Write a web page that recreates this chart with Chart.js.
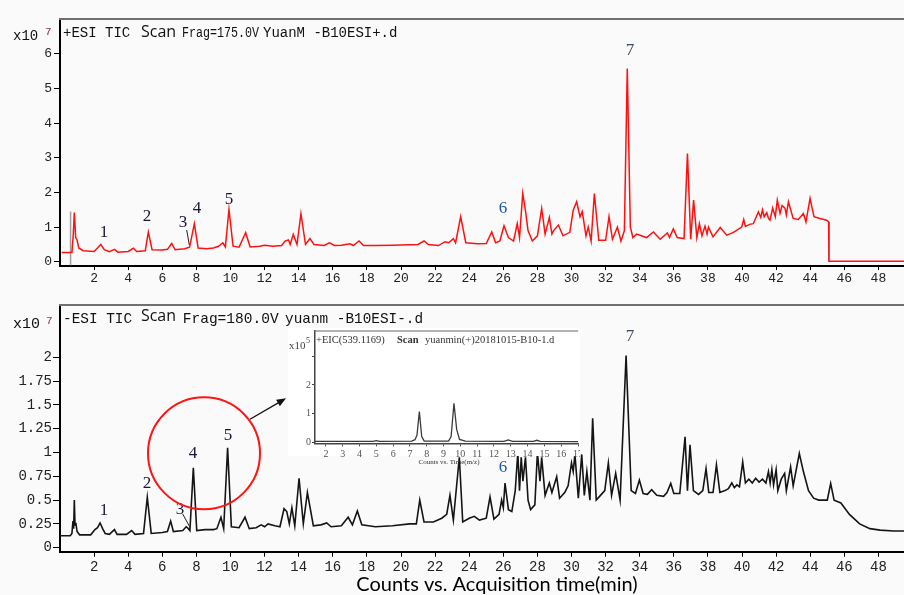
<!DOCTYPE html>
<html>
<head>
<meta charset="utf-8">
<title>ESI TIC chromatograms</title>
<script src="https://cdn.jsdelivr.net/npm/chart.js@4.4.0/dist/chart.umd.min.js"></script>
<style>
  body { margin: 0; background: #fafafa; width: 904px; height: 595px; overflow: hidden; position: relative; }
  canvas { position: absolute; }
  #topChart { left: 0; top: 0; }
  #bottomChart { left: 0; top: 295px; }
  #insetChart { left: 282px; top: 328px; }
</style>
</head>
<body>
<canvas id="topChart" width="904" height="295" style="width:904px;height:295px"></canvas>
<canvas id="bottomChart" width="904" height="300" style="width:904px;height:300px"></canvas>
<canvas id="insetChart" width="298" height="142" style="width:298px;height:142px"></canvas>
<script>
// ---- data ----
// +ESI TIC, counts x10^7
const posTime = [0.1, 0.7, 0.78, 0.84, 0.92, 1.0, 1.1, 1.35, 2.0, 2.2, 2.39, 2.6, 2.9, 3.2, 3.4, 4.0, 4.3, 4.5, 5.0, 5.18,
  5.4, 6.0, 6.3, 6.55, 6.75, 7.3, 7.6, 7.88, 8.1, 8.6, 9.0, 9.3, 9.55, 9.7, 9.91, 10.15, 10.5, 10.89, 11.15, 11.7,
  12.0, 12.5, 13.0, 13.2, 13.4, 13.5, 13.68, 13.9, 14.13, 14.4, 14.66, 14.9, 15.5, 15.8, 16.1, 16.5, 17.0, 17.2, 17.54, 17.8,
  18.5, 19.5, 20.5, 21.0, 21.35, 21.6, 22.2, 22.58, 22.8, 23.07, 23.2, 23.5, 23.8, 24.5, 25.0, 25.32, 25.55, 25.8, 26.04, 26.3,
  26.6, 26.82, 26.95, 27.14, 27.31, 27.45, 27.7, 28.0, 28.25, 28.45, 28.7, 28.85, 28.95, 29.23, 29.5, 29.9, 30.1, 30.3, 30.5, 30.63,
  30.85, 30.98, 31.15, 31.34, 31.6, 32.0, 32.2, 32.4, 32.69, 32.9, 33.1, 33.27, 33.45, 33.6, 33.82, 34.1, 34.4, 34.8, 35.2, 35.62,
  35.75, 35.97, 36.2, 36.6, 36.8, 36.99, 37.16, 37.35, 37.5, 37.65, 37.83, 37.95, 38.03, 38.3, 38.72, 39.1, 39.5, 39.98, 40.1, 40.2,
  40.45, 40.66, 40.96, 41.1, 41.2, 41.3, 41.45, 41.55, 41.64, 41.8, 41.95, 42.07, 42.23, 42.35, 42.52, 42.6, 42.72, 43.0, 43.3, 43.6,
  43.75, 43.99, 44.22, 44.57, 44.96, 45.08, 45.1, 49.5];
const posCounts = [0.27, 0.27, 0.8, 1.42, 0.7, 0.63, 0.4, 0.32, 0.3, 0.4, 0.5, 0.35, 0.29, 0.36, 0.28, 0.3, 0.39, 0.3, 0.32, 0.86,
  0.35, 0.34, 0.36, 0.53, 0.35, 0.38, 0.42, 1.1, 0.4, 0.38, 0.4, 0.45, 0.55, 0.43, 1.51, 0.45, 0.42, 0.84, 0.43, 0.45,
  0.48, 0.45, 0.47, 0.6, 0.63, 0.5, 0.79, 0.5, 1.39, 0.5, 0.67, 0.5, 0.47, 0.55, 0.47, 0.48, 0.52, 0.47, 0.6, 0.47,
  0.47, 0.48, 0.49, 0.5, 0.6, 0.5, 0.47, 0.58, 0.55, 0.67, 0.55, 1.3, 0.55, 0.52, 0.53, 0.86, 0.55, 0.6, 1.04, 0.7,
  0.6, 1.1, 0.7, 1.97, 1.44, 0.9, 0.6, 0.75, 1.54, 0.8, 1.28, 0.8, 0.9, 1.06, 0.75, 0.85, 1.49, 1.73, 1.3, 1.45,
  0.75, 1.0, 0.6, 1.97, 0.62, 0.62, 1.3, 0.65, 1.0, 0.6, 0.9, 5.57, 1.0, 0.7, 0.8, 0.75, 0.7, 0.86, 0.65, 0.83,
  0.7, 0.95, 0.7, 0.67, 3.12, 0.65, 1.78, 0.7, 1.1, 0.75, 1.03, 0.8, 1.0, 0.72, 0.99, 0.77, 0.85, 1.0, 1.22, 1.02,
  1.08, 1.1, 1.44, 1.28, 1.5, 1.3, 1.42, 1.25, 1.2, 1.55, 1.3, 1.78, 1.4, 1.62, 1.55, 1.35, 1.73, 1.25, 1.22, 1.39,
  1.15, 1.83, 1.3, 1.25, 1.2, 1.15, 0.02, 0.02];
// grey start / stop markers of the +ESI trace
const posStartTime = [0.62, 0.62];
const posStartCounts = [-0.1, 1.45];
const posStopTime = [45.09, 45.09];
const posStopCounts = [1.15, 0.02];

// -ESI TIC, counts x10^7
const negTime = [0.0, 0.6, 0.7, 0.76, 0.8, 0.84, 0.88, 0.93, 1.0, 1.15, 1.8, 2.05, 2.2, 2.35, 2.5, 2.65, 2.9, 3.19, 3.35, 3.9,
  4.2, 4.4, 4.9, 5.12, 5.35, 6.0, 6.3, 6.49, 6.65, 7.2, 7.4, 7.53, 7.62, 7.82, 8.02, 8.5, 9.0, 9.2, 9.44, 9.6,
  9.83, 10.05, 10.5, 10.85, 11.1, 11.5, 11.8, 12.0, 12.2, 12.6, 12.9, 13.14, 13.3, 13.45, 13.6, 13.77, 14.02, 14.27, 14.51, 14.86,
  15.3, 15.64, 15.9, 16.5, 16.9, 17.15, 17.44, 17.7, 18.5, 19.5, 20.5, 20.9, 21.1, 21.35, 21.9, 22.39, 22.68, 22.87, 23.07, 23.42,
  23.62, 24.0, 24.3, 24.6, 25.0, 25.22, 25.45, 25.75, 25.9, 26.0, 26.1, 26.3, 26.5, 26.7, 26.85, 26.95, 27.05, 27.15, 27.3, 27.45,
  27.6, 27.85, 28.0, 28.15, 28.25, 28.45, 28.7, 28.85, 29.13, 29.3, 29.6, 29.8, 30.0, 30.1, 30.2, 30.4, 30.6, 30.75, 30.9, 31.08,
  31.24, 31.45, 31.7, 31.95, 32.16, 32.35, 32.59, 32.85, 33.2, 33.5, 33.75, 33.98, 34.2, 34.45, 34.7, 35.0, 35.4, 35.6, 35.82, 36.0,
  36.35, 36.66, 36.8, 36.95, 37.15, 37.45, 37.7, 37.89, 38.05, 38.3, 38.5, 38.7, 39.0, 39.2, 39.4, 39.55, 39.7, 39.85, 40.04, 40.2,
  40.4, 40.6, 40.8, 41.0, 41.2, 41.4, 41.55, 41.65, 41.75, 41.85, 42.0, 42.1, 42.3, 42.5, 42.6, 42.85, 43.0, 43.36, 43.6, 43.9,
  44.2, 44.5, 45.0, 45.2, 45.4, 45.8, 46.3, 46.9, 47.5, 48.1, 48.9, 49.5];
const negCounts = [0.126, 0.126, 0.15, 0.28, 0.2, 0.5, 0.24, 0.26, 0.17, 0.135, 0.135, 0.19, 0.21, 0.26, 0.2, 0.15, 0.14, 0.19, 0.14, 0.14,
  0.18, 0.14, 0.15, 0.53, 0.15, 0.16, 0.17, 0.28, 0.17, 0.18, 0.22, 0.2, 0.18, 0.84, 0.18, 0.19, 0.19, 0.2, 0.32, 0.2,
  1.05, 0.22, 0.21, 0.32, 0.2, 0.21, 0.24, 0.22, 0.25, 0.23, 0.22, 0.41, 0.38, 0.25, 0.42, 0.23, 0.73, 0.25, 0.58, 0.23,
  0.24, 0.26, 0.22, 0.23, 0.32, 0.24, 0.385, 0.24, 0.22, 0.23, 0.25, 0.25, 0.5, 0.27, 0.27, 0.31, 0.35, 0.55, 0.29, 0.95,
  0.27, 0.31, 0.33, 0.29, 0.31, 0.535, 0.3, 0.35, 0.5, 0.42, 0.68, 0.4, 0.38, 0.6, 1.0, 0.6, 0.95, 0.7, 0.95, 0.5,
  0.4, 0.45, 1.0, 0.7, 0.95, 0.55, 0.68, 0.58, 0.745, 0.52, 0.58, 0.65, 0.89, 0.8, 0.98, 0.52, 0.98, 0.55, 0.8, 0.5,
  1.36, 0.5, 0.55, 0.6, 0.89, 0.55, 0.78, 0.5, 2.02, 0.6, 0.57, 0.71, 0.57, 0.56, 0.61, 0.55, 0.54, 0.58, 0.675, 0.57,
  0.57, 1.165, 0.6, 1.08, 0.6, 0.56, 0.6, 0.83, 0.58, 0.58, 0.87, 0.58, 0.6, 0.62, 0.68, 0.63, 0.66, 0.64, 0.9, 0.68,
  0.72, 0.68, 0.73, 0.69, 0.72, 0.68, 0.8, 0.68, 0.82, 0.66, 0.82, 0.6, 0.72, 0.78, 0.6, 0.85, 0.65, 0.99, 0.8, 0.6,
  0.52, 0.5, 0.5, 0.675, 0.5, 0.47, 0.35, 0.25, 0.2, 0.185, 0.175, 0.175];

// +EIC(539.1169) inset, counts x10^5
const eicTime = [1.35, 4.8, 5.0, 5.2, 7.1, 7.3, 7.42, 7.56, 7.7, 7.85, 9.3, 9.45, 9.62, 9.78, 9.95, 10.3, 12.6, 12.85, 13.1, 14.35, 14.55, 14.75, 17.0];
const eicCounts = [0.03, 0.03, 0.06, 0.03, 0.04, 0.09, 0.25, 1.07, 0.2, 0.04, 0.04, 0.2, 1.36, 0.45, 0.1, 0.04, 0.03, 0.08, 0.03, 0.03, 0.07, 0.03, 0.02];

// ticks
const timeTicks = [2, 4, 6, 8, 10, 12, 14, 16, 18, 20, 22, 24, 26, 28, 30, 32, 34, 36, 38, 40, 42, 44, 46, 48];
const posYTicks = [0, 1, 2, 3, 4, 5, 6];
const negYTicks = [0, 0.25, 0.5, 0.75, 1, 1.25, 1.5, 1.75, 2];
const eicXTicks = [2, 3, 4, 5, 6, 7, 8, 9, 10, 11, 12, 13, 14, 15, 16, 17];
const eicYTicks = [0, 1, 2, 3];
const eicYLabels = ['0', '1', '2', ''];

const peakNames = ['1', '2', '3', '4', '5', '6', '7'];

// ---- helpers ----
const MONO = '"Liberation Mono", monospace';
const SERIF = '"Liberation Serif", serif';

function points(xs, ys) {
    return xs.map((x, i) => ({ x: x, y: ys[i] }));
}

function fixBox(dim, size) {
    return s => {
        s[dim] = size;
        s.paddingLeft = s.paddingRight = s.paddingTop = s.paddingBottom = 0;
    };
}

function axis(opt) {
    return {
        type: 'linear',
        min: opt.min,
        max: opt.max,
        afterBuildTicks: s => { s.ticks = opt.ticks.map(v => ({ value: v })); },
        afterFit: fixBox(opt.dim, opt.size),
        grid: { display: true, drawOnChartArea: false, drawTicks: true, tickLength: opt.tickLength, color: opt.color, lineWidth: 1 },
        border: { display: true, color: opt.color, width: opt.borderWidth },
        ticks: {
            autoSkip: false, maxRotation: 0, padding: opt.padding,
            color: opt.labelColor, font: { family: opt.family, size: opt.fontSize },
            callback: opt.labels ? (v, i) => opt.labels[i] : v => String(v)
        }
    };
}

// draws frame line, free texts, circle and arrow for each panel
const decor = {
    id: 'decor',
    beforeDraw(chart, args, o) {
        if (!o.whiteBox) return;
        const ctx = chart.ctx, b = o.whiteBox;
        ctx.save();
        ctx.fillStyle = '#ffffff';
        ctx.fillRect(b[0], b[1], b[2], b[3]);
        ctx.restore();
    },
    afterDraw(chart, args, o) {
        const ctx = chart.ctx, a = chart.chartArea;
        ctx.save();
        ctx.strokeStyle = o.frameColor;
        ctx.lineWidth = o.frameWidth;
        ctx.beginPath();
        ctx.moveTo(a.left - 1, a.top);
        ctx.lineTo(a.right, a.top);
        ctx.stroke();

        ctx.textBaseline = 'middle';
        (o.texts || []).forEach(t => {
            ctx.font = t.f;
            ctx.fillStyle = t.c || '#111';
            ctx.textAlign = t.a || 'left';
            if (t.w) ctx.fillText(t.t, t.x, t.y, t.w);
            else ctx.fillText(t.t, t.x, t.y);
        });

        ctx.strokeStyle = '#222';
        ctx.lineWidth = 1;
        (o.lines || []).forEach(l => {
            ctx.beginPath();
            ctx.moveTo(l[0], l[1]);
            ctx.lineTo(l[2], l[3]);
            ctx.stroke();
        });

        if (o.circle) {
            ctx.strokeStyle = '#ff1414';
            ctx.lineWidth = 2;
            ctx.beginPath();
            ctx.arc(o.circle[0], o.circle[1], o.circle[2], 0, Math.PI * 2);
            ctx.stroke();
        }
        if (o.arrow) {
            const [x1, y1, x2, y2] = o.arrow;
            const ang = Math.atan2(y2 - y1, x2 - x1);
            ctx.strokeStyle = '#111';
            ctx.fillStyle = '#111';
            ctx.lineWidth = 1.3;
            ctx.beginPath();
            ctx.moveTo(x1, y1);
            ctx.lineTo(x2 - 6 * Math.cos(ang), y2 - 6 * Math.sin(ang));
            ctx.stroke();
            ctx.beginPath();
            ctx.moveTo(x2, y2);
            ctx.lineTo(x2 - 10 * Math.cos(ang - 0.38), y2 - 10 * Math.sin(ang - 0.38));
            ctx.lineTo(x2 - 10 * Math.cos(ang + 0.38), y2 - 10 * Math.sin(ang + 0.38));
            ctx.closePath();
            ctx.fill();
        }
        ctx.restore();
    }
};

function peakLabels(xy, colors) {
    return peakNames.map((n, i) => ({ t: n, x: xy[i][0], y: xy[i][1], a: 'center', f: '17px ' + SERIF, c: colors[i] }));
}
const labelColors = ['#16163a', '#16163a', '#16163a', '#16163a', '#16163a', '#1c5aa6', '#3d4a5c'];

const baseOptions = {
    responsive: false,
    animation: false,
    events: [],
    plugins: { legend: { display: false }, tooltip: { enabled: false } }
};

// ---- +ESI panel ----
new Chart(document.getElementById('topChart'), {
    type: 'scatter',
    data: {
        datasets: [
            { data: points(posTime, posCounts), showLine: true, borderColor: '#ff1010', borderWidth: 1.5, pointRadius: 0, tension: 0 },
            { data: points(posStartTime, posStartCounts), showLine: true, borderColor: '#a0a0a0', borderWidth: 1.5, pointRadius: 0 },
            { data: points(posStopTime, posStopCounts), showLine: true, borderColor: '#9a9a9a', borderWidth: 1.5, pointRadius: 0 }
        ]
    },
    options: Object.assign({}, baseOptions, {
        layout: { padding: { top: 19, right: 0, left: 0, bottom: 0 } },
        scales: {
            x: axis({ min: 0, max: 49.5, ticks: timeTicks, dim: 'height', size: 29, tickLength: 4, color: '#000', borderWidth: 2,
                      padding: 1, labelColor: '#222', family: MONO, fontSize: 13 }),
            y: axis({ min: -0.12, max: 7.0, ticks: posYTicks, dim: 'width', size: 60, tickLength: 6, color: '#000', borderWidth: 2,
                      padding: 2, labelColor: '#222', family: MONO, fontSize: 13 })
        },
        plugins: Object.assign({}, baseOptions.plugins, {
            decor: {
                frameColor: '#707070', frameWidth: 2,
                texts: [
                    { t: 'x10', x: 13, y: 36, f: '14px ' + MONO },
                    { t: '7', x: 45, y: 32, f: '11px ' + MONO, c: '#8a3a4a' },
                    { t: '+ESI TIC', x: 63, y: 33, f: '14px ' + MONO, w: 69 },
                    { t: 'Scan', x: 141, y: 32, f: '16px "Open Sans"', w: 36 },
                    { t: 'Frag=175.0V', x: 182, y: 33, f: '14px ' + MONO, w: 77 },
                    { t: 'YuanM -B10ESI+.d', x: 263, y: 33, f: '14px ' + MONO, w: 158 }
                ].concat(peakLabels([[104, 233], [147, 217], [183, 223], [197, 209], [229, 200], [503, 209], [630, 51]], labelColors)),
                lines: [[186.7, 230, 189.3, 245]]
            }
        })
    }),
    plugins: [decor]
});

// ---- -ESI panel ----
new Chart(document.getElementById('bottomChart'), {
    type: 'scatter',
    data: {
        datasets: [
            { data: points(negTime, negCounts), showLine: true, borderColor: '#141414', borderWidth: 1.6, pointRadius: 0, tension: 0 }
        ]
    },
    options: Object.assign({}, baseOptions, {
        layout: { padding: { top: 10, right: 0, left: 0, bottom: 0 } },
        scales: {
            x: axis({ min: 0, max: 49.5, ticks: timeTicks, dim: 'height', size: 43.3, tickLength: 5, color: '#000', borderWidth: 2,
                      padding: 2, labelColor: '#222', family: MONO, fontSize: 14 }),
            y: axis({ min: -0.042, max: 2.55, ticks: negYTicks, dim: 'width', size: 60, tickLength: 7, color: '#000', borderWidth: 2,
                      padding: 1, labelColor: '#222', family: MONO, fontSize: 14 })
        },
        plugins: Object.assign({}, baseOptions.plugins, {
            decor: {
                frameColor: '#707070', frameWidth: 2,
                texts: [
                    { t: 'x10', x: 13, y: 29, f: '15px ' + MONO },
                    { t: '7', x: 46, y: 26, f: '11px ' + MONO, c: '#8a3a4a' },
                    { t: '-ESI TIC', x: 63, y: 24.3, f: '15px ' + MONO, w: 69 },
                    { t: 'Scan', x: 141, y: 21.5, f: '17px "Open Sans"', w: 35 },
                    { t: 'Frag=180.0V', x: 182.7, y: 24.3, f: '15px ' + MONO, w: 96 },
                    { t: 'yuanm -B10ESI-.d', x: 285, y: 24.3, f: '15px ' + MONO, w: 138 },
                    { t: 'Counts vs. Acquisition time(min)', x: 497, y: 290, a: 'center', f: '20px Lato', c: '#000' }
                ].concat(peakLabels([[104, 216], [147, 189], [180, 215], [193, 159], [228, 141], [503, 173], [630, 42]], labelColors)),
                lines: [[182.7, 219, 190, 232.3]],
                circle: [204, 158.3, 56],
                arrow: [250, 124.3, 286, 103.3]
            }
        })
    }),
    plugins: [decor]
});

// ---- +EIC inset ----
new Chart(document.getElementById('insetChart'), {
    type: 'scatter',
    data: {
        datasets: [
            { data: points(eicTime, eicCounts), showLine: true, borderColor: '#3a3a3a', borderWidth: 1.3, pointRadius: 0, tension: 0 }
        ]
    },
    options: Object.assign({}, baseOptions, {
        layout: { padding: { top: 3, right: 2, left: 0, bottom: 0 } },
        scales: {
            x: axis({ min: 1.35, max: 17.0, ticks: eicXTicks, dim: 'height', size: 26.7, tickLength: 3, color: '#444', borderWidth: 1.5,
                      padding: 2, labelColor: '#555', family: SERIF, fontSize: 10 }),
            y: axis({ min: -0.035, max: 3.88, ticks: eicYTicks, labels: eicYLabels, dim: 'width', size: 33, tickLength: 3, color: '#444',
                      borderWidth: 1.5, padding: 1, labelColor: '#555', family: SERIF, fontSize: 10 })
        },
        plugins: Object.assign({}, baseOptions.plugins, {
            decor: {
                whiteBox: [6, 0, 292, 128],
                frameColor: '#666', frameWidth: 1,
                texts: [
                    { t: 'x10', x: 7, y: 18, f: '11px ' + SERIF, c: '#444' },
                    { t: '5', x: 24, y: 13, f: '8px ' + SERIF, c: '#444' },
                    { t: '+EIC(539.1169)', x: 34, y: 12, f: '10.5px ' + SERIF, c: '#333', w: 72 },
                    { t: 'Scan', x: 115, y: 12, f: 'bold 10.5px ' + SERIF, c: '#333', w: 24 },
                    { t: 'yuanmin(+)20181015-B10-1.d', x: 143, y: 12, f: '10.5px ' + SERIF, c: '#333', w: 136 },
                    { t: 'Counts vs. Time(m/z)', x: 167, y: 133.7, a: 'center', f: '7px ' + SERIF, c: '#333' }
                ]
            }
        })
    }),
    plugins: [decor]
});
</script>
</body>
</html>
